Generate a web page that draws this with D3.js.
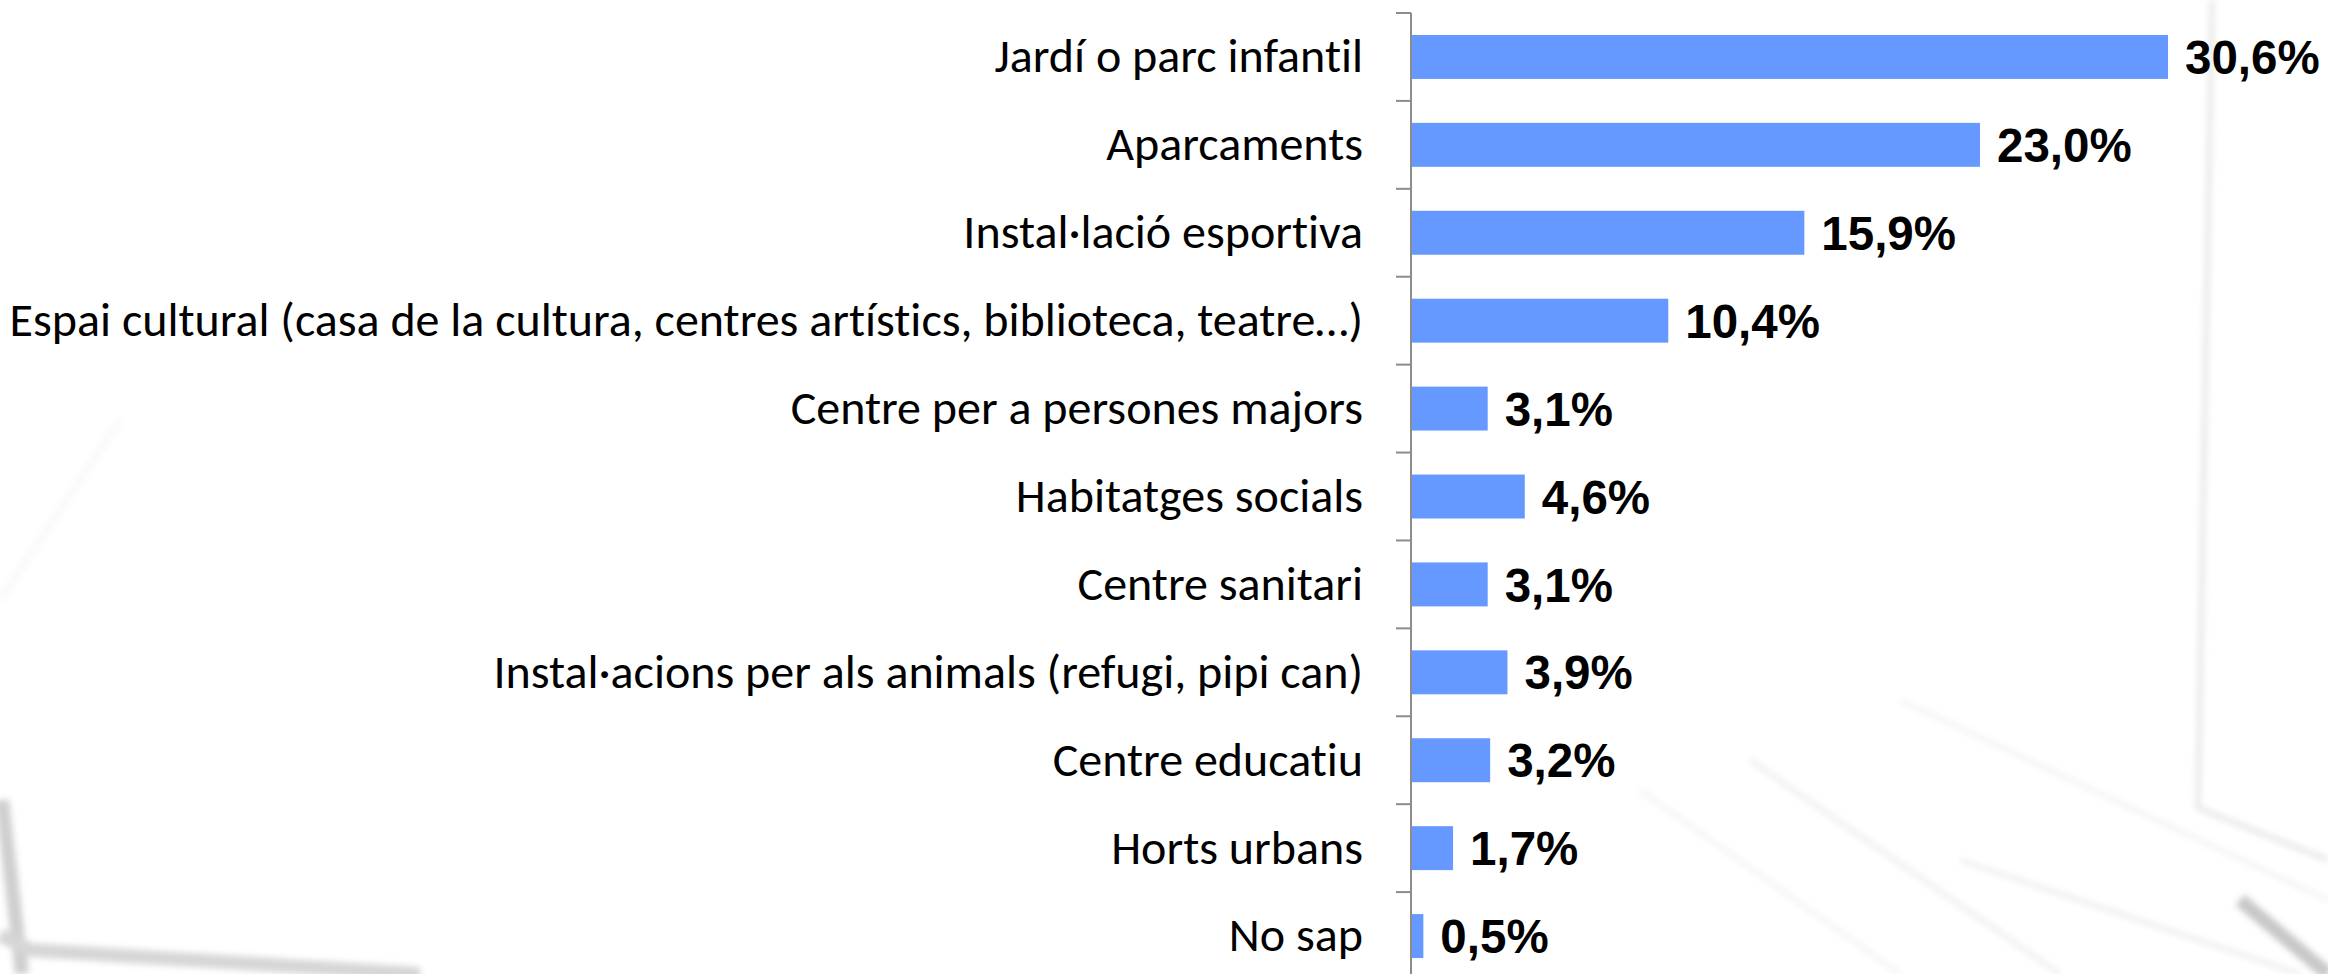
<!DOCTYPE html>
<html>
<head>
<meta charset="utf-8">
<script src="https://cdn.jsdelivr.net/npm/d3@7/dist/d3.min.js"></script>
<style>
  html, body { margin: 0; padding: 0; background: #ffffff; }
  svg { display: block; }
</style>
</head>
<body>
<svg id="chart" width="2328" height="974"></svg>
<script>
const categories = [
  "Jardí o parc infantil",
  "Aparcaments",
  "Instal·lació esportiva",
  "Espai cultural (casa de la cultura, centres artístics, biblioteca, teatre…)",
  "Centre per a persones majors",
  "Habitatges socials",
  "Centre sanitari",
  "Instal·acions per als animals (refugi, pipi can)",
  "Centre educatiu",
  "Horts urbans",
  "No sap"
];
const values = [30.6, 23.0, 15.9, 10.4, 3.1, 4.6, 3.1, 3.9, 3.2, 1.7, 0.5];
const valueLabels = ["30,6%", "23,0%", "15,9%", "10,4%", "3,1%", "4,6%", "3,1%", "3,9%", "3,2%", "1,7%", "0,5%"];

const W = 2328, H = 974;
const axisX = 1411;
const svg = d3.select("#chart");

// faint decorative background (architectural sketch)
const defs = svg.append("defs");
defs.append("filter").attr("id", "blur").append("feGaussianBlur").attr("stdDeviation", 3);
const bg = svg.append("g").attr("filter", "url(#blur)").attr("fill", "none");
const deco = [
  {p: [[2212, 0], [2198, 808], [2328, 860]], c: "#e6e6e6", w: 5},
  {p: [[1900, 700], [2328, 900]], c: "#f1f1f1", w: 4},
  {p: [[1750, 760], [2060, 974]], c: "#efefef", w: 5},
  {p: [[1640, 790], [1900, 974]], c: "#f2f2f2", w: 4},
  {p: [[1960, 860], [2300, 974]], c: "#eeeeee", w: 5},
  {p: [[2240, 900], [2328, 974]], c: "#c8c8c8", w: 14},
  {p: [[2, 800], [22, 974]], c: "#cfcfcf", w: 14},
  {p: [[0, 935], [30, 950], [420, 974]], c: "#d6d6d6", w: 14},
  {p: [[0, 600], [120, 420]], c: "#f8f8f8", w: 6}
];
bg.selectAll("path").data(deco).join("path")
  .attr("d", d => d3.line()(d.p))
  .attr("stroke", d => d.c)
  .attr("stroke-width", d => d.w)
  .attr("stroke-linejoin", "round");

const x = d3.scaleLinear().domain([0, 30.6]).range([axisX, 2168]);
const y = d3.scaleBand().domain(categories).range([13, 980]).paddingInner(0.5).paddingOuter(0.25);

// bars
svg.append("g").selectAll("rect").data(categories).join("rect")
  .attr("x", x(0))
  .attr("y", d => y(d))
  .attr("width", (d, i) => x(values[i]) - x(0))
  .attr("height", y.bandwidth())
  .attr("fill", "#6699ff");

// axis labels
const axis = d3.axisLeft(y).tickSize(0).tickPadding(48);
const ga = svg.append("g").attr("transform", `translate(${axisX},0)`).call(axis);
ga.select(".domain").remove();
ga.selectAll("text")
  .attr("font-family", "Carlito, Calibri, Lato, sans-serif")
  .attr("font-size", 48)
  .style("font-variant-ligatures", "none")
  .attr("fill", "#000");

// axis line and boundary ticks
const step = y.step();
const y0 = y.range()[0];
svg.append("line").attr("x1", axisX).attr("x2", axisX).attr("y1", y0).attr("y2", H)
  .attr("stroke", "#8c8c8c").attr("stroke-width", 2);
svg.append("g").selectAll("line").data(d3.range(categories.length + 1)).join("line")
  .attr("x1", axisX - 15).attr("x2", axisX)
  .attr("y1", i => y0 + i * step).attr("y2", i => y0 + i * step)
  .attr("stroke", "#8c8c8c").attr("stroke-width", 2);

// value labels
svg.append("g").selectAll("text").data(categories).join("text")
  .attr("x", (d, i) => x(values[i]) + 17)
  .attr("y", d => y(d) + y.bandwidth() / 2)
  .attr("dy", "0.36em")
  .attr("font-family", "Liberation Sans, Arial, sans-serif")
  .attr("font-weight", "bold")
  .attr("font-size", 47.5)
  .attr("fill", "#000")
  .text((d, i) => valueLabels[i]);
</script>
</body>
</html>
